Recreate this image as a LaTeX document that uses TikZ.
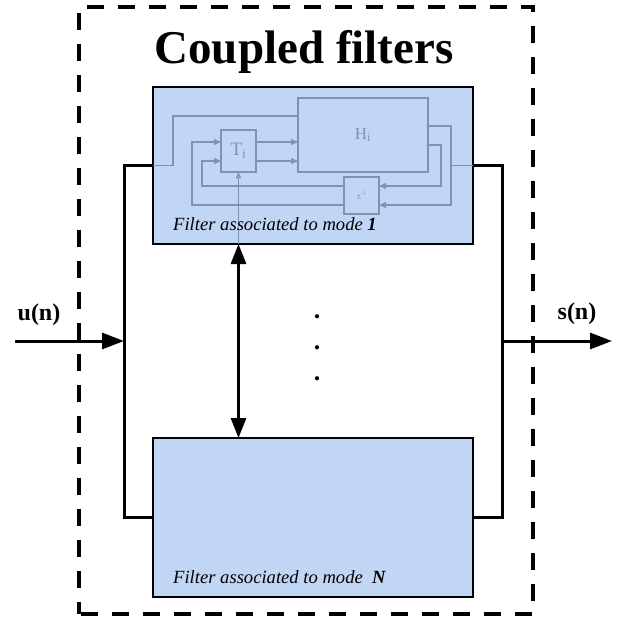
\documentclass[tikz,border=0pt]{standalone}
\usepackage{fontspec}
\setmainfont{Liberation Serif}
\usetikzlibrary{arrows.meta}
\definecolor{boxfill}{RGB}{193,213,245}
\definecolor{innc}{RGB}{128,146,178}
\begin{document}
\begin{tikzpicture}[x=1pt,y=-1pt,
  bus/.style={line width=3pt},
  flt/.style={draw, line width=2.5pt, fill=boxfill, inner sep=0pt, outer sep=0pt},
  frm/.style={draw, line width=4pt, dash pattern=on 17pt off 14pt, dash phase=-2pt, inner sep=0pt, outer sep=0pt},
  ibox/.style={draw=innc, line width=1.2pt, inner sep=0pt, outer sep=0pt, text=innc},
  inner/.style={draw=innc, line width=1.2pt},
  iarr/.style={-{Triangle[length=7pt,width=6pt]}},
  bigtip/.style={-{Triangle[length=22pt,width=16pt]}},
  lbl/.style={font=\fontsize{24}{28}\selectfont\bfseries, inner sep=0pt},
  captxt/.style={font=\fontsize{18.6}{22}\selectfont\itshape, inner sep=0pt, anchor=base west},
  dotc/.style={font=\fontsize{26}{30}\selectfont\bfseries, inner sep=0pt}
]
\useasboundingbox (0,0) rectangle (622,624);
% frame and title
\node[frm, minimum width=454pt, minimum height=607pt] (frame) at (305.5,310.5) {};
\node[font=\fontsize{47}{54}\selectfont\bfseries, anchor=base, inner sep=0pt] (title) at (304,63) {Coupled filters};
% filter boxes
\node[flt, minimum width=320pt, minimum height=157pt] (f1) at (313,165.5) {};
\node[flt, minimum width=320pt, minimum height=159pt] (fN) at (313,517.5) {};
% buses
\coordinate (lbus) at (124,341);
\coordinate (rbus) at (502,341);
\coordinate (uin) at (15,341);
\coordinate (sout) at (612,341);
\draw[bus] (f1.west) -| (lbus) |- (fN.west);
\draw[bus] (f1.east) -| (rbus) |- (fN.east);
\draw[bus, bigtip] (uin) -- (lbus);
\draw[bus, bigtip] (rbus) -- (sout);
\node[lbl, anchor=base] (ulab) at (39,320) {u(n)};
\node[lbl, anchor=base] (slab) at (577,319) {s(n)};
% inner diagram of filter 1
\node[ibox, minimum width=130pt, minimum height=74pt, font=\fontsize{17}{20}\selectfont] (H) at (363,135) {H\textsubscript{i}};
\node[ibox, minimum width=35pt, minimum height=42pt, font=\fontsize{19}{22}\selectfont] (T) at (238.5,151) {T\textsubscript{i}};
\node[ibox, minimum width=35pt, minimum height=37pt, font=\fontsize{9}{11}\selectfont] (Z) at (361.5,195.5) {z\textsuperscript{-1}};
\coordinate (tin1) at (221,142);
\coordinate (tin2) at (221,161);
\coordinate (tout1) at (256,142);
\coordinate (tout2) at (256,161);
\coordinate (hin0) at (298,116);
\coordinate (hin1) at (298,142);
\coordinate (hin2) at (298,161);
\coordinate (hout1) at (428,126);
\coordinate (hout2) at (428,145);
\coordinate (zin1) at (379,186);
\coordinate (zin2) at (379,205);
\coordinate (zout1) at (344,186);
\coordinate (zout2) at (344,205);
\coordinate (rb1) at (451,165.5);
\coordinate (rb2) at (441,170);
\coordinate (lb0) at (173,140);
\coordinate (lb1) at (192,175);
\coordinate (lb2) at (202,175);
\draw[inner] (f1.west) -| (lb0) |- (hin0);
\draw[inner, iarr] (tout1) -- (hin1);
\draw[inner, iarr] (tout2) -- (hin2);
\draw[inner, iarr] (hout1) -| (rb1) |- (zin2);
\draw[inner, iarr] (hout2) -| (rb2) |- (zin1);
\draw[inner] (rb1) -- (f1.east);
\draw[inner, iarr] (zout1) -| (lb2) |- (tin2);
\draw[inner, iarr] (zout2) -| (lb1) |- (tin1);
\draw[inner, -{Triangle[open,length=6pt,width=5pt]}] (f1.south -| T.south) -- (T.south);
% captions
\node[captxt] (c1) at (173,230) {Filter associated to mode \textbf{1}};
\node[captxt] (cN) at (173,583) {Filter associated to mode\ \ \textbf{N}};
% coupling arrow
\draw[bus, {Triangle[length=20pt,width=15pt]}-{Triangle[length=20pt,width=15pt]}] (f1.south -| T.south) -- (fN.north -| T.south);
% dots
\node[dotc] (d1) at (317,317) {.};
\node[dotc] (d2) at (317,348) {.};
\node[dotc] (d3) at (317,379) {.};
\end{tikzpicture}
\end{document}
